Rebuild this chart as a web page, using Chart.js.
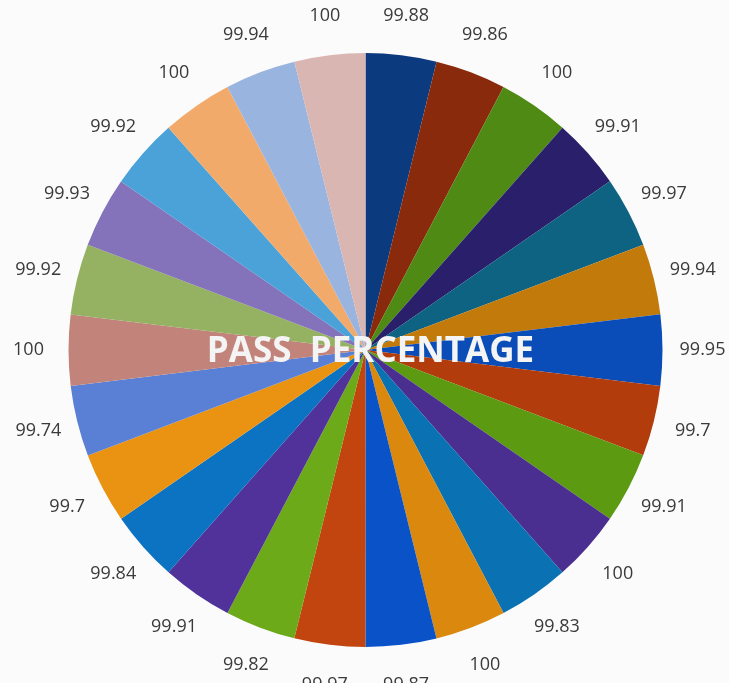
<!DOCTYPE html>
<html>
<head>
<meta charset="utf-8">
<script src="https://cdn.jsdelivr.net/npm/chart.js@4/dist/chart.umd.min.js"></script>
<style>
    html, body { margin: 0; padding: 0; background: #fbfbfb; }
    #wrap { width: 729px; height: 683px; position: relative; }
</style>
</head>
<body>
<div id="wrap"><canvas id="passChart"></canvas></div>
<script>
// slice values, clockwise from 12 o'clock
const passValues = [99.88, 99.86, 100, 99.91, 99.97, 99.94, 99.95, 99.7, 99.91, 100, 99.83, 100, 99.87,
    99.97, 99.82, 99.91, 99.84, 99.7, 99.74, 100, 99.92, 99.93, 99.92, 100, 99.94, 100];
const sliceLabels = passValues.map(function (v, i) { return 'Item ' + (i + 1); });
const sliceColors = [
    '#0c3a7e', '#8a2a0c', '#4e8a14', '#2a1f6a', '#0e6282', '#c27a0a', '#0a4cb8', '#b23c0c', '#5c9a12',
    '#4a2e90', '#0a72b2', '#da880e', '#0a52c8', '#c2440f', '#6caa1a', '#50329a', '#0c72c2', '#ea9212',
    '#5a80d6', '#c2847a', '#94b262', '#8472ba', '#4aa2d8', '#f2aa6a', '#9ab4e0', '#dab6b2'
];
const centerTitle = 'PASS  PERCENTAGE';

// labels outside each slice + title in the middle
const outsideLabels = {
    id: 'outsideLabels',
    afterDatasetsDraw: function (chart) {
        var ctx = chart.ctx;
        var meta = chart.getDatasetMeta(0);
        ctx.save();
        ctx.font = '18px "Open Sans"';
        ctx.fillStyle = '#3a3a3a';
        ctx.textAlign = 'center';
        ctx.textBaseline = 'middle';
        meta.data.forEach(function (arc, i) {
            var p = arc.getProps(['x', 'y', 'startAngle', 'endAngle', 'outerRadius'], true);
            var mid = (p.startAngle + p.endAngle) / 2;
            var r = p.outerRadius + 40;
            ctx.fillText(String(passValues[i]), p.x + Math.cos(mid) * r, p.y + Math.sin(mid) * r);
        });
        var c = meta.data[0];
        ctx.font = 'bold 35px "Open Sans"';
        ctx.fillStyle = '#f4f4f4';
        ctx.fillText(centerTitle, c.x + 5, c.y + 2);
        ctx.restore();
    }
};

var ctx = document.getElementById('passChart');
var chart = new Chart(ctx, {
    type: 'pie',
    data: {
        labels: sliceLabels,
        datasets: [{
            data: passValues,
            backgroundColor: sliceColors,
            borderWidth: 0
        }]
    },
    options: {
        responsive: true,
        maintainAspectRatio: false,
        animation: false,
        layout: {
            padding: { top: 53, bottom: 36, left: 68, right: 66 }
        },
        plugins: {
            legend: { display: false },
            tooltip: { enabled: false },
            title: { display: false }
        }
    },
    plugins: [outsideLabels]
});
</script>
</body>
</html>
